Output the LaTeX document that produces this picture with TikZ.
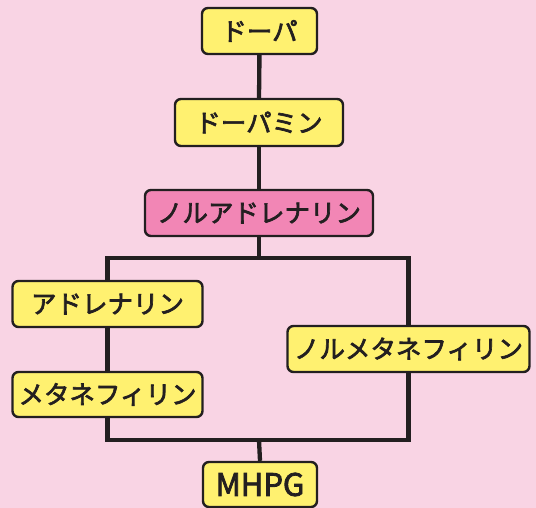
\documentclass[tikz,border=0pt]{standalone}
\usepackage{fontspec}
\newfontfamily\cjk{Noto Sans CJK JP}[FakeBold=2.6]
\definecolor{bg}{HTML}{F9D4E4}
\definecolor{ylw}{HTML}{FFF170}
\definecolor{pnk}{HTML}{F286B5}
\definecolor{ink}{HTML}{231F20}
\begin{document}
\begin{tikzpicture}[x=1pt,y=-1pt,
  box/.style={draw=ink, line width=2.4pt, rounded corners=6pt, fill=ylw, text=ink,
    inner sep=0pt, font=\cjk\fontsize{25.5}{25.5}\selectfont},
  link/.style={draw=ink, line width=4.3pt, line join=miter}]
\fill[bg] (0,0) rectangle (536,508);
\useasboundingbox (0,0) rectangle (536,508);
\coordinate (j1) at (259,258);
\coordinate (j2) at (259,440);
\path[link] (259,31) -- (259,213);
\node[box, minimum width=115pt, minimum height=46pt] (dopa) at (259.5,31) {ドーパ};
\node[box, minimum width=168pt, minimum height=47pt] (dopamine) at (259,122.5) {ドーパミン};
\node[box, fill=pnk, minimum width=228pt, minimum height=46pt] (na) at (259,213) {ノルアドレナリン};
\node[box, minimum width=190pt, minimum height=46pt] (adr) at (107.5,304) {アドレナリン};
\node[box, minimum width=190pt, minimum height=45pt] (meta) at (107.5,394.5) {メタネフィリン};
\node[box, minimum width=242pt, minimum height=46pt] (nm) at (408.5,349) {ノルメタネフィリン};
\node[box, minimum width=114pt, minimum height=45pt, font=\cjk\fontsize{31}{31}\selectfont] (mhpg) at (260,484.5) {MHPG};
\path[link] (dopa.south) -- (dopamine.north);
\path[link] (dopamine.south) -- (na.north);
\path[link] (na.south) -- (j1);
\path[link] (adr.north) |- (j1) -| (nm.north);
\path[link] (adr.south) -- (meta.north);
\path[link] (meta.south) |- (j2) -| (nm.south);
\path[link] (j2) -- (mhpg.north);
\end{tikzpicture}
\end{document}
